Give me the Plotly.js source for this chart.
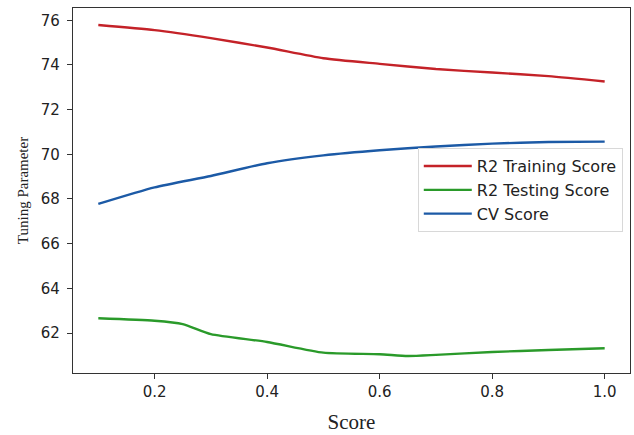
<!DOCTYPE html>
<html>
<head>
<meta charset="utf-8">
<script src="https://cdn.plot.ly/plotly-3.0.1.min.js"></script>
<style>html,body{margin:0;padding:0;background:#fff;}#chart{width:634px;height:435px;}</style>
</head>
<body>
<div id="chart"></div>
<script>
var xTrain = [0.1, 0.2, 0.3, 0.4, 0.5, 0.6, 0.7, 0.8, 0.9, 1.0];
var r2Train = [75.79, 75.56, 75.20, 74.78, 74.30, 74.05, 73.82, 73.66, 73.50, 73.26];
var xTest = [0.1, 0.2, 0.25, 0.3, 0.4, 0.5, 0.6, 0.65, 0.7, 0.8, 0.9, 1.0];
var r2Test = [62.66, 62.55, 62.40, 61.95, 61.60, 61.12, 61.05, 60.97, 61.02, 61.15, 61.24, 61.32];
var xCV = [0.1, 0.2, 0.3, 0.4, 0.5, 0.6, 0.7, 0.8, 0.9, 1.0];
var cvScore = [67.78, 68.52, 69.03, 69.60, 69.95, 70.18, 70.35, 70.48, 70.55, 70.57];
var seriesNames = ["R2 Training Score", "R2 Testing Score", "CV Score"];
var xTicks = [0.2, 0.4, 0.6, 0.8, 1.0];
var xTickText = ["0.2", "0.4", "0.6", "0.8", "1.0"];
var yTicks = [62, 64, 66, 68, 70, 72, 74, 76];

var traces = [
  {x: xTrain, y: r2Train, name: seriesNames[0], mode: "lines", line: {color: "#c42228", width: 2.4, shape: "spline", smoothing: 0.6}},
  {x: xTest, y: r2Test, name: seriesNames[1], mode: "lines", line: {color: "#2a9a2a", width: 2.4, shape: "spline", smoothing: 0.6}},
  {x: xCV, y: cvScore, name: seriesNames[2], mode: "lines", line: {color: "#1c5aa6", width: 2.4, shape: "spline", smoothing: 0.6}}
];

var axisCommon = {
  showline: true, linecolor: "#333", linewidth: 1.2, mirror: true,
  ticks: "outside", ticklen: 5, tickwidth: 1, tickcolor: "#333",
  showgrid: false, zeroline: false,
  tickfont: {family: "DejaVu Sans", size: 15, color: "#222"}
};

var layout = {
  width: 634, height: 435,
  margin: {l: 73, r: 4, t: 8, b: 62},
  paper_bgcolor: "#fff", plot_bgcolor: "#fff",
  showlegend: true,
  legend: {
    x: 0.619, y: 0.616, xanchor: "left", yanchor: "top",
    bgcolor: "rgba(255,255,255,0.9)", bordercolor: "#d8d8d8", borderwidth: 1,
    font: {family: "DejaVu Sans", size: 16, color: "#222"},
    itemwidth: 48,
    tracegroupgap: 0
  },
  xaxis: Object.assign({}, axisCommon, {
    range: [0.055, 1.045], tickvals: xTicks, ticktext: xTickText,
    title: {text: "Score", font: {family: "Liberation Serif", size: 21, color: "#222"}, standoff: 14}
  }),
  yaxis: Object.assign({}, axisCommon, {
    range: [60.21, 76.55], tickvals: yTicks, ticklabelstandoff: 4,
    title: {text: "Tuning Parameter", font: {family: "Liberation Serif", size: 15, color: "#222"}, standoff: 8}
  })
};

Plotly.newPlot("chart", traces, layout, {displayModeBar: false, staticPlot: true});
</script>
</body>
</html>
